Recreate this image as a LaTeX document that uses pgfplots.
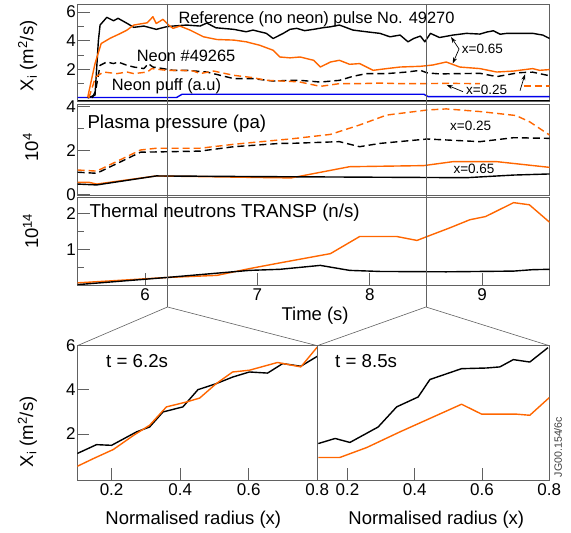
\documentclass[border=0pt]{standalone}
\usepackage{fontspec}
\setmainfont{Liberation Sans}
\usepackage{pgfplots}
\pgfplotsset{compat=1.18}
\usetikzlibrary{arrows.meta}
\definecolor{jorange}{RGB}{255,102,0}
\definecolor{jblue}{RGB}{0,0,235}
\definecolor{frame}{gray}{0.38}
\newcommand\fA{\fontsize{16.4}{19}\selectfont}
\newcommand\fB{\fontsize{18.7}{21}\selectfont}
\newcommand\fC{\fontsize{13.5}{15}\selectfont}
\pgfplotsset{
 jet/.style={scale only axis, axis line style={frame, line width=0.9pt},
   tick style={frame, line width=0.9pt}, tick align=inside,
   major tick length=12pt, minor tick length=6pt,
   xtick pos=bottom, ytick pos=left,
   /pgf/number format/assume math mode=true,
   tick label style={font=\fontsize{17}{19}\selectfont},
   yticklabel style={inner xsep=1.5pt},
   label style={font=\fontsize{18.5}{21}\selectfont},
   every axis plot/.append style={line width=1.4pt, line join=round}},
 top/.style={jet, width=472pt, xmin=5.4, xmax=9.6},
 dsh/.style={dash pattern=on 7pt off 4pt},
}
\begin{document}
\begin{tikzpicture}[x=1pt,y=1pt]
\useasboundingbox (0,0) rectangle (571,533);
% ---------------- Panel 1: chi_i vs time
\begin{axis}[top, at={(77.6pt,529pt)}, anchor=north west, height=97.7pt,
  ymin=-0.26, ymax=6.56, ytick={2,4,6}, minor ytick={1,3,5}, xtick=\empty,
  ylabel={X\textsubscript{i} (m\textsuperscript{2}/s)},
  ylabel style={at={(rel axis cs:0,0.5)}, anchor=center, yshift=50pt, xshift=-3pt}]
\addplot[black, line width=0.9pt] coordinates {(5.4,-0.14) (9.6,-0.14)};
\addplot[jblue] coordinates {(5.4,0.03) (6.28,0.03) (6.33,0.26) (8.48,0.26) (8.52,0.09) (9.6,0.09)};
\addplot[black] coordinates {(5.49,0.0) (5.555,0.2) (5.585,4.0) (5.60,5.09) (5.66,5.63) (5.72,5.39) (5.76,5.56) (5.84,5.21) (5.90,4.93) (5.99,5.02) (6.10,4.79) (6.19,4.97) (6.25,5.02) (6.37,5.09) (6.49,5.02) (6.55,5.23) (6.63,4.90) (6.79,4.79) (6.90,4.62) (6.96,4.74) (7.08,4.51) (7.14,4.15) (7.23,4.51) (7.29,4.79) (7.35,4.86) (7.42,4.70) (7.50,4.79) (7.58,4.90) (7.65,4.97) (7.73,5.09) (7.85,4.74) (7.97,4.62) (8.09,4.51) (8.18,4.27) (8.27,4.39) (8.34,3.92) (8.39,4.15) (8.45,4.32) (8.49,3.92) (8.54,4.51) (8.62,4.22) (8.74,4.39) (8.86,4.51) (8.98,4.46) (9.04,4.60) (9.10,4.69) (9.16,4.45) (9.22,4.51) (9.34,4.51) (9.45,4.51) (9.54,4.39) (9.60,4.15)};
\addplot[jorange] coordinates {(5.49,0.05) (5.555,2.4) (5.61,3.8) (5.69,4.17) (5.78,4.5) (5.84,4.74) (5.90,5.09) (6.02,5.25) (6.07,5.67) (6.10,5.2) (6.16,5.49) (6.21,5.09) (6.25,4.86) (6.31,5.02) (6.40,4.74) (6.52,4.27) (6.64,4.08) (6.79,4.04) (6.90,3.92) (7.02,3.68) (7.14,3.33) (7.20,2.86) (7.29,2.80) (7.38,2.86) (7.50,2.63) (7.56,2.16) (7.65,2.51) (7.73,2.63) (7.82,2.35) (7.91,2.40) (8.03,1.93) (8.15,2.05) (8.27,2.16) (8.45,2.21) (8.56,2.30) (8.68,2.51) (8.80,2.16) (8.98,2.05) (9.13,1.81) (9.28,1.88) (9.45,2.05) (9.51,1.93) (9.60,1.98)};
\addplot[black, dsh] coordinates {(5.53,0) (5.56,0.5) (5.60,2.28) (5.66,2.51) (5.72,2.40) (5.76,2.51) (5.84,2.28) (5.90,2.16) (5.99,2.05) (6.03,2.40) (6.07,2.16) (6.16,2.05) (6.25,1.93) (6.37,1.93) (6.55,1.81) (6.67,1.58) (6.79,1.35) (6.96,1.35) (7.14,1.18) (7.29,1.23) (7.38,1.23) (7.56,1.11) (7.73,1.23) (7.85,1.51) (7.97,1.70) (8.15,1.70) (8.33,1.81) (8.45,1.93) (8.51,1.75) (8.62,1.68) (8.80,1.70) (8.98,1.72) (9.13,1.49) (9.28,1.70) (9.34,1.77) (9.45,1.80) (9.60,1.55)};
\addplot[jorange, dsh] coordinates {(5.50,0) (5.56,1.46) (5.63,1.81) (5.75,1.70) (5.84,1.81) (5.90,1.70) (6.02,1.81) (6.06,2.05) (6.19,1.93) (6.31,1.93) (6.43,1.88) (6.49,1.70) (6.61,1.88) (6.79,1.58) (6.96,1.42) (7.08,1.23) (7.29,1.16) (7.38,1.11) (7.56,0.81) (7.73,1.0) (7.91,1.0) (8.09,1.04) (8.27,1.0) (8.45,1.0) (8.68,1.02) (8.98,1.0)};
\addplot[jorange, dsh] coordinates {(9.37,0.84) (9.60,0.84)};
\coordinate (a1) at (axis cs:6.2,6.56);
\coordinate (b1) at (axis cs:8.5,6.56);
\end{axis}
% ---------------- Panel 2: plasma pressure
\begin{axis}[top, at={(77.6pt,428.7pt)}, anchor=north west, height=91.2pt,
  ymin=-0.04, ymax=4.11, ytick={0,2,4}, minor ytick={1,3}, xtick=\empty,
  ylabel={10\textsuperscript{4}},
  ylabel style={at={(rel axis cs:0,0.5)}, anchor=center, yshift=47pt, xshift=2.5pt}]
\addplot[jorange, dsh] coordinates {(5.40,1.12) (5.57,1.07) (5.96,2.03) (6.10,2.11) (6.49,2.11) (6.79,2.29) (7.20,2.49) (7.29,2.53) (7.65,2.74) (7.91,3.17) (8.15,3.62) (8.51,3.85) (8.68,3.90) (8.98,3.78) (9.30,3.60) (9.42,3.32) (9.60,2.71)};
\addplot[black, dsh] coordinates {(5.40,1.02) (5.57,0.97) (5.96,1.93) (6.19,1.95) (6.49,1.98) (6.79,2.18) (7.20,2.33) (7.29,2.33) (7.73,2.41) (7.91,2.18) (8.09,2.33) (8.51,2.53) (8.98,2.41) (9.28,2.59) (9.60,2.56)};
\addplot[jorange] coordinates {(5.40,0.56) (5.50,0.56) (5.57,0.48) (6.10,0.85) (6.50,0.82) (7.00,0.78) (7.30,0.76) (7.82,1.27) (8.48,1.32) (8.74,1.50) (9.13,1.50) (9.60,1.24)};
\addplot[black] coordinates {(5.40,0.48) (5.57,0.44) (6.10,0.85) (7.00,0.82) (8.86,0.77) (9.28,0.89) (9.60,0.94)};
\end{axis}
% ---------------- Panel 3: neutrons
\begin{axis}[top, at={(77.6pt,335.7pt)}, anchor=north west, height=87.7pt,
  ymin=0, ymax=2.46, ytick={1,2}, minor ytick={0.5,1.5}, xtick={6,7,8,9},
  ylabel={10\textsuperscript{14}},
  ylabel style={at={(rel axis cs:0,0.5)}, anchor=center, yshift=47pt, xshift=10pt},
  xlabel={Time (s)},
  xlabel style={at={(rel axis cs:0.5,0)}, anchor=center, yshift=-31pt, xshift=1.5pt}]
\addplot[jorange] coordinates {(5.40,0.06) (6.19,0.21) (6.64,0.27) (6.93,0.46) (7.20,0.62) (7.65,0.88) (7.91,1.36) (8.24,1.36) (8.42,1.25) (8.51,1.36) (8.71,1.60) (8.89,1.83) (9.03,1.92) (9.28,2.31) (9.42,2.25) (9.60,1.76)};
\addplot[black] coordinates {(5.40,0.01) (6.19,0.21) (6.93,0.41) (7.20,0.44) (7.56,0.55) (7.82,0.41) (8.09,0.38) (8.68,0.37) (9.28,0.39) (9.45,0.43) (9.60,0.44)};
\coordinate (a3) at (axis cs:6.2,0);
\coordinate (b3) at (axis cs:8.5,0);
\end{axis}
% ---------------- Bottom left: t = 6.2 s
\begin{axis}[jet, at={(77.3pt,187.3pt)}, anchor=north west, width=240pt, height=134.3pt,
  xmin=0.1, xmax=0.8, ymin=-0.08, ymax=6, xtick={0.2,0.4,0.6,0.8}, ytick={2,4,6},
  ylabel={X\textsubscript{i} (m\textsuperscript{2}/s)},
  ylabel style={at={(rel axis cs:0,0.5)}, anchor=center, yshift=50pt, xshift=-19pt},
  xlabel={Normalised radius (x)},
  xlabel style={at={(rel axis cs:0.5,0)}, anchor=center, yshift=-40pt, xshift=-4pt}]
\addplot[black] coordinates {(0.10,1.12) (0.156,1.52) (0.20,1.49) (0.273,2.10) (0.311,2.32) (0.35,3.0) (0.408,3.23) (0.452,4.01) (0.505,4.28) (0.553,4.58) (0.602,4.81) (0.655,4.76) (0.699,5.19) (0.752,5.07) (0.80,5.52)};
\addplot[jorange] coordinates {(0.10,0.54) (0.147,0.89) (0.205,1.30) (0.265,1.95) (0.311,2.40) (0.36,3.23) (0.418,3.45) (0.457,3.63) (0.505,4.28) (0.553,4.81) (0.602,4.89) (0.684,5.24) (0.752,5.04) (0.80,5.94)};
\end{axis}
% ---------------- Bottom right: t = 8.5 s
\begin{axis}[jet, at={(317.3pt,187.3pt)}, anchor=north west, width=232pt, height=134.3pt,
  xmin=0.11, xmax=0.8, ymin=-0.08, ymax=6, xtick={0.2,0.4,0.6,0.8}, ytick=\empty,
  xlabel={Normalised radius (x)},
  xlabel style={at={(rel axis cs:0.5,0)}, anchor=center, yshift=-40pt, xshift=3pt}]
\addplot[black] coordinates {(0.113,1.57) (0.163,1.80) (0.207,1.62) (0.291,2.32) (0.346,3.23) (0.41,3.68) (0.445,4.47) (0.539,4.96) (0.613,4.99) (0.653,5.04) (0.693,5.37) (0.742,5.26) (0.796,5.91)};
\addplot[jorange] coordinates {(0.113,0.94) (0.177,0.94) (0.257,1.39) (0.356,2.10) (0.539,3.35) (0.599,2.90) (0.703,2.90) (0.742,2.85) (0.80,3.65)};
\end{axis}
% ---------------- markers of the two times and zoom fans
\draw[frame, line width=0.8pt] (a1) -- (a3) -- ++(0,-22) coordinate (ap);
\draw[frame, line width=0.8pt] (b1) -- (b3) -- ++(0,-22) coordinate (bp);
\draw[frame, line width=0.6pt] (77.3,187.3) -- (ap) -- (317.3,187.3) -- (bp) -- (549.3,187.3);
% ---------------- texts
\node[anchor=base west, inner sep=0pt, font=\fA] at (178.3,509.5) {Reference (no neon) pulse No. 49270};
\node[anchor=base west, inner sep=0pt, font=\fA] at (136.7,471.3) {Neon \#49265};
\node[anchor=base west, inner sep=0pt, font=\fA] at (111.7,442.3) {Neon puff (a.u)};
\node[anchor=base west, inner sep=0pt, font=\fC] at (461.7,479) {x=0.65};
\node[anchor=base west, inner sep=0pt, font=\fC] at (466,438) {x=0.25};
\draw[-{Stealth[length=6pt,width=4pt]}, line width=0.7pt] (459,484) -- (451,496);
\draw[-{Stealth[length=6pt,width=4pt]}, line width=0.7pt] (459,484) -- (452.7,469.5);
\draw[-{Stealth[length=6pt,width=4pt]}, line width=0.7pt] (463,441.3) -- (446.7,448);
\draw[-{Stealth[length=6pt,width=4pt]}, line width=0.7pt] (520,442.3) -- (525,458.7);
\node[anchor=base west, inner sep=0pt, font=\fB] at (87.3,404.7) {Plasma pressure (pa)};
\node[anchor=base west, inner sep=0pt, font=\fC] at (450,402) {x=0.25};
\node[anchor=base west, inner sep=0pt, font=\fC] at (453.3,359) {x=0.65};
\node[anchor=base west, inner sep=0pt, font=\fB] at (89.3,315.7) {Thermal neutrons TRANSP (n/s)};
\node[anchor=base west, inner sep=0pt, font=\fB] at (106,165.7) {t = 6.2s};
\node[anchor=base west, inner sep=0pt, font=\fB] at (335,165.7) {t = 8.5s};
\node[rotate=90, inner sep=0pt, font=\fontsize{10.6}{12}\selectfont, text=black!75] at (558,86) {JG00.154/6c};
\end{tikzpicture}
\end{document}
